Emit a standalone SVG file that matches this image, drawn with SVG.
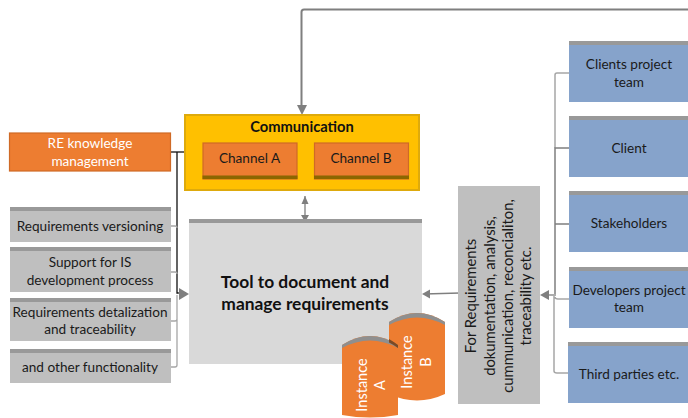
<svg xmlns="http://www.w3.org/2000/svg" width="688" height="418" viewBox="0 0 688 418">
<style>
text{font-family:Lato,"Open Sans","Liberation Sans",sans-serif;font-size:13.6px;text-anchor:middle;fill:#1a1a1a}
.g{fill:#bfbfbf}.bar{fill:#999}.b{fill:#86a3cb}.o{fill:#ed7d31}
.c{fill:none;stroke:#7f7f7f;stroke-width:1.3}
.c2{fill:none;stroke:#a6a6a6;stroke-width:1.3}
.k{fill:none;stroke:#111;stroke-width:1.3}
.h{fill:#7f7f7f}
.t{font-size:17.400px;font-weight:700;fill:#111}
.wt{fill:#fff}
.iw{fill:#fff;font-size:14.500px}
.r{font-size:14.800px}
</style>
<g id="connectors">
<path class="c" style="stroke-width:2" d="M688 9.500H304Q301.500 9.500 301.500 12V108"/>
<path class="h" d="M297 105h10l-5 10z"/>
<path class="c" d="M305 196V216"/>
<path class="h" d="M305 196l-3.500 8h7zM301 215h8l-4 7z"/>
<path class="k" d="M170 152H185"/>
<path class="k" d="M177 152V293H186"/>
<path class="c2" d="M170 226H175Q177 226 177 228M170 272H175Q177 272 177 274M170 321H175Q177 321 177 319V295M170 367H175Q177 367 177 365V319"/>
<path class="c" d="M178 293H186"/>
<path class="h" d="M179 288v12l10-6z"/>
<path class="c" style="stroke-width:1.5" d="M460 293L424 294"/>
<path class="h" d="M422 294l8-4.500v9z"/>
<path class="c2" style="stroke-width:1.5" d="M569 73H557Q555 73 555 75V148"/>
<path class="c" style="stroke-width:1.500" d="M569 148H555V294M569 224H555"/>
<path class="c2" style="stroke-width:1.5" d="M569 299H558Q555 299 555 297M569 373H557Q554 373 554 371V296"/>
<path class="h" d="M540 295l9-5v10z"/>
<path class="c" d="M549 295H556"/>
</g>
<g id="re-knowledge">
<rect x="9.500" y="133" width="161" height="38" class="o" stroke="#cf6a26" stroke-width="1.200"/>
<text x="90" y="148" class="wt">RE knowledge</text><text x="90" y="166" class="wt">management</text>
</g>
<g id="versioning"><rect x="10" y="207" width="161" height="35" class="g"/><rect x="10" y="207" width="161" height="4" class="bar"/><text x="90" y="231">Requirements versioning</text></g>
<g id="support"><rect x="10" y="247" width="161" height="45" class="g"/><rect x="10" y="247" width="161" height="4" class="bar"/><text x="90" y="267">Support for IS</text><text x="90" y="285">development process</text></g>
<g id="detalization"><rect x="10" y="298" width="161" height="43" class="g"/><rect x="10" y="298" width="161" height="4" class="bar"/><text x="90" y="317">Requirements detalization</text><text x="90" y="334">and traceability</text></g>
<g id="other"><rect x="10" y="349" width="161" height="34" class="g"/><rect x="10" y="349" width="161" height="4" class="bar"/><text x="90" y="372">and other functionality</text></g>
<g id="communication">
<rect x="185" y="115" width="234" height="75" fill="#ffc000" stroke="#deaa0c" stroke-width="2"/>
<text x="302" y="132" style="font-weight:700;fill:#111;font-size:14.700px">Communication</text>
</g>
<g id="channel-a"><rect x="203" y="143" width="94" height="36" class="o" stroke="#cf6a26" stroke-width="1.200"/><rect x="202.500" y="175.500" width="95" height="3.500" fill="#8c6600"/><text x="249.500" y="163">Channel A</text></g>
<g id="channel-b"><rect x="314.500" y="143" width="94" height="36" class="o" stroke="#cf6a26" stroke-width="1.200"/><rect x="314" y="175.500" width="95" height="3.500" fill="#8c6600"/><text x="361" y="163">Channel B</text></g>
<g id="tool">
<rect x="189" y="219" width="233" height="145" fill="#d9d9d9"/><rect x="189" y="219" width="233" height="4" class="bar"/>
<text x="305" y="288" class="t">Tool to document and</text>
<text x="305" y="310" class="t">manage requirements</text>
</g>
<g id="instance-b">
<path d="M389 322Q417 304 445 322V394Q417 407 389 394Z" class="o"/>
<path d="M389 322Q417 304 445 322V325Q417 310 389 325Z" fill="#8f8f8f"/>
<text transform="translate(412 362) rotate(-90)" class="iw">Instance</text>
<text transform="translate(431 362) rotate(-90)" class="iw">B</text>
</g>
<g id="instance-a">
<path d="M342 345Q370 327 398 345V415Q370 420 342 415Z" class="o"/>
<path d="M342 345Q370 327 398 345V348Q370 333 342 348Z" fill="#8f8f8f"/>
<path d="M389 339Q394 342 398 345V348Q394 345 389 342.500Z" fill="#7a4a25"/>
<text transform="translate(367 385) rotate(-90)" class="iw">Instance</text>
<text transform="translate(385 385) rotate(-90)" class="iw">A</text>
</g>
<g id="requirements-note">
<rect x="458" y="186" width="82" height="218" class="g"/>
<text transform="translate(476 296) rotate(-90)" class="r">For Requirements</text>
<text transform="translate(495 296) rotate(-90)" class="r">dokumentation, analysis,</text>
<text transform="translate(513 296) rotate(-90)" class="r">cummunication, reconcialiton,</text>
<text transform="translate(531 296) rotate(-90)" class="r">traceability etc.</text>
</g>
<g id="clients-team"><rect x="569" y="41" width="119" height="61" class="b"/><rect x="569" y="41" width="119" height="4" class="bar"/><text x="629" y="69">Clients project</text><text x="629" y="87">team</text></g>
<g id="client"><rect x="569" y="116" width="119" height="61" class="b"/><rect x="569" y="116" width="119" height="4" class="bar"/><text x="629" y="153">Client</text></g>
<g id="stakeholders"><rect x="569" y="191" width="119" height="61" class="b"/><rect x="569" y="191" width="119" height="4" class="bar"/><text x="629" y="228">Stakeholders</text></g>
<g id="developers"><rect x="569" y="267" width="119" height="61" class="b"/><rect x="569" y="267" width="119" height="4" class="bar"/><text x="629" y="295">Developers project</text><text x="629" y="312">team</text></g>
<g id="third"><rect x="568" y="342" width="120" height="61" class="b"/><rect x="568" y="342" width="120" height="4" class="bar"/><text x="629" y="379">Third parties etc.</text></g>
</svg>
